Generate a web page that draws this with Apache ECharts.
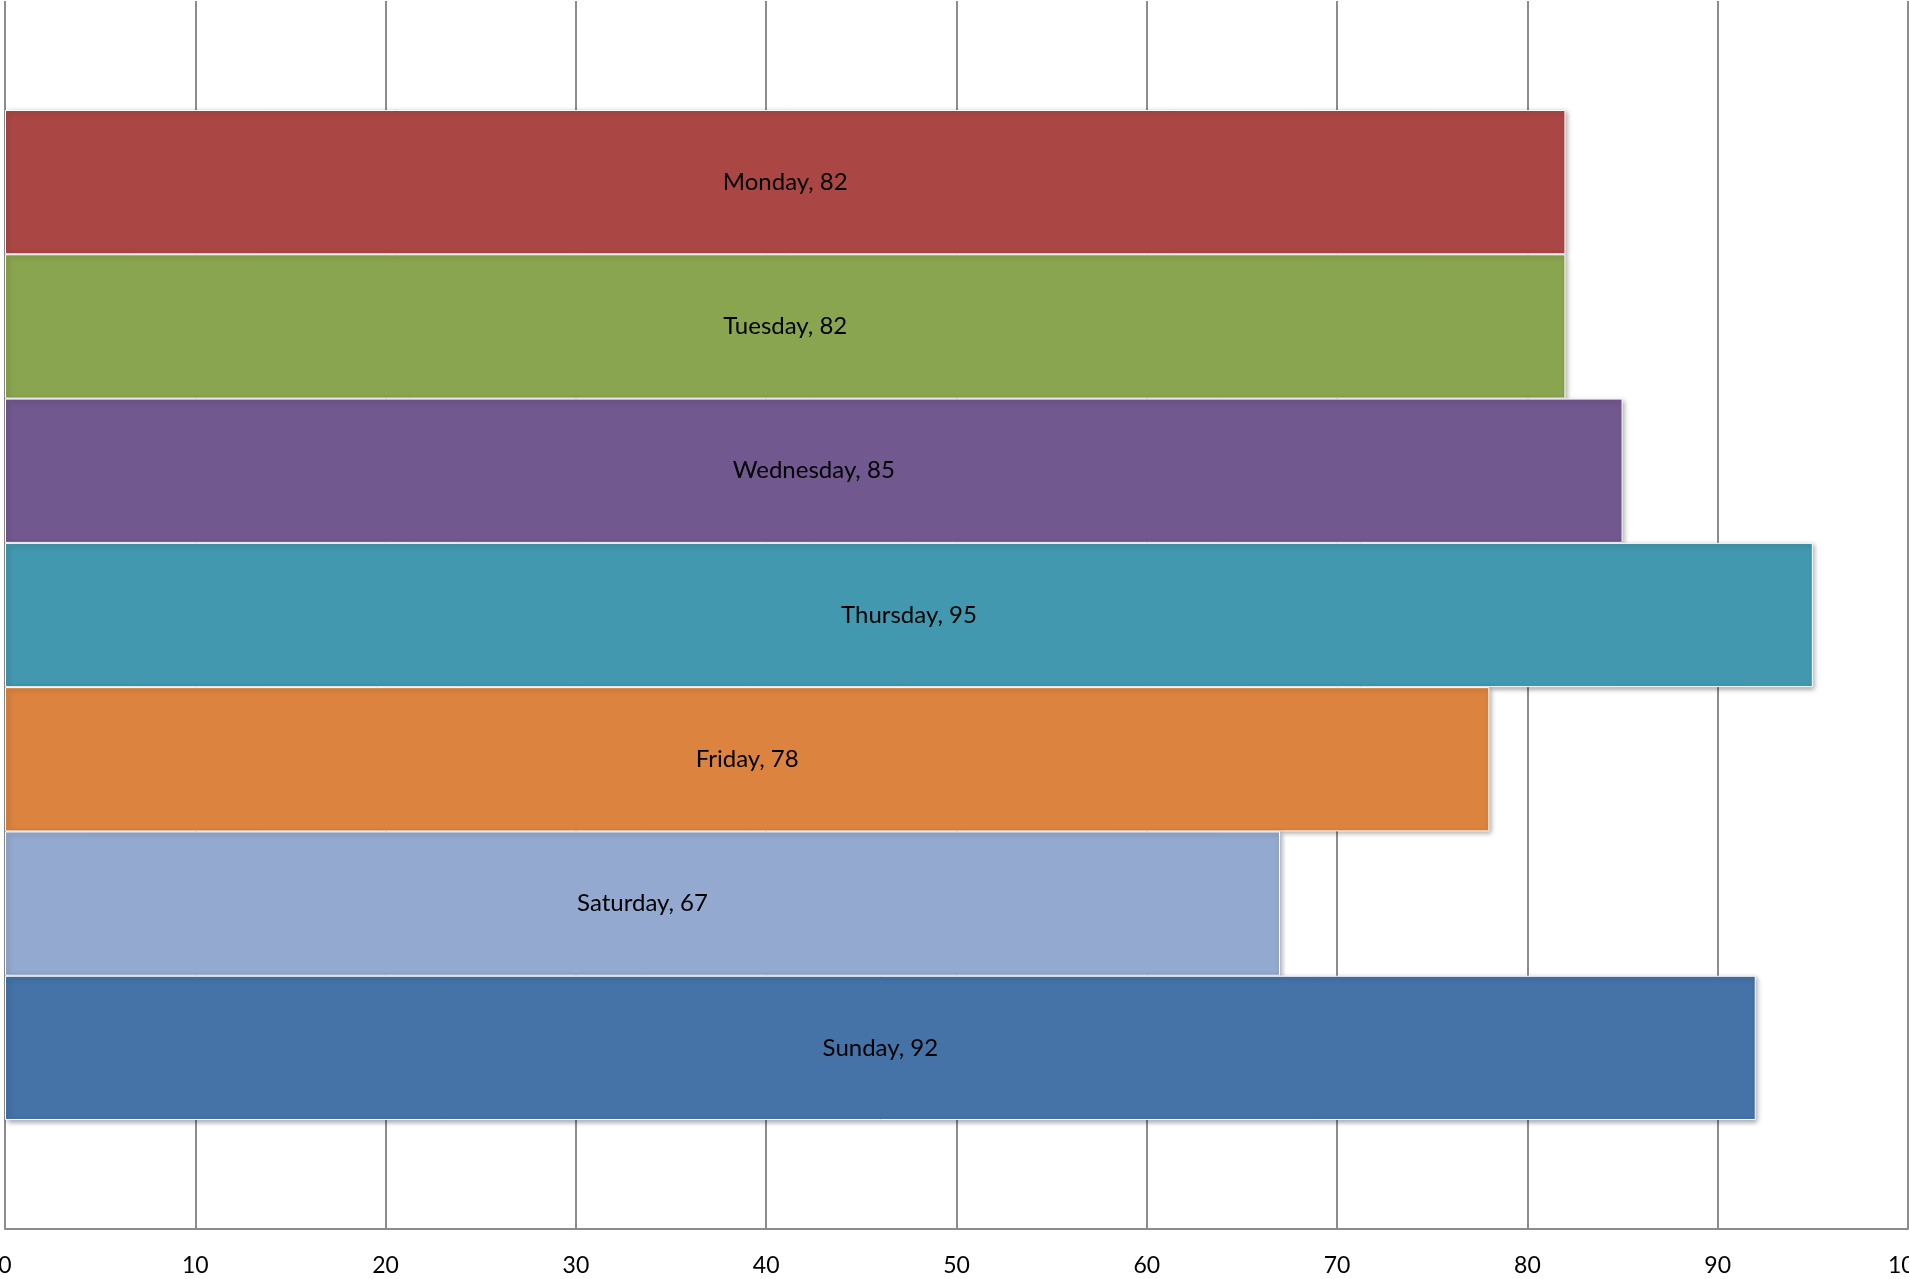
<!DOCTYPE html>
<html>
<head>
<meta charset="utf-8">
<script src="https://cdn.jsdelivr.net/npm/echarts@6/dist/echarts.min.js"></script>
<style>
html,body{margin:0;padding:0;background:#fff;}
#chart{width:1909px;height:1279px;}
</style>
</head>
<body>
<div id="chart"></div>
<script>
const days = ['Monday','Tuesday','Wednesday','Thursday','Friday','Saturday','Sunday'];
const values = [82, 82, 85, 95, 78, 67, 92];
const colors = ['#AA4744','#8AA54F','#71588F','#4298AF','#DC833F','#94A9CF','#4572A7'];
const xTicks = [0,10,20,30,40,50,60,70,80,90,100];

const chart = echarts.init(document.getElementById('chart'));
const series = days.map((d, i) => ({
  name: d,
  type: 'bar',
  data: [values[i]],
  barGap: '0%',
  barCategoryGap: '17.75%',
  itemStyle: {
    color: colors[i],
    borderColor: '#ffffff',
    borderWidth: 1,
    shadowColor: 'rgba(0,0,0,0.35)',
    shadowBlur: 5,
    shadowOffsetX: 2,
    shadowOffsetY: 2
  },
  label: {
    show: true,
    position: 'inside',
    formatter: d + ', ' + values[i],
    color: '#000',
    fontFamily: 'Lato',
    fontSize: 24
  }
}));

chart.setOption({
  animation: false,
  grid: {left: 5, right: 1, top: 1, bottom: 50, containLabel: false, outerBoundsMode: 'none'},
  xAxis: {
    type: 'value',
    min: 0, max: 100, interval: 10,
    axisLine: {show: true, lineStyle: {color: '#8C8C8C', width: 2}},
    axisTick: {show: false},
    splitLine: {show: true, lineStyle: {color: '#8C8C8C', width: 2}},
    axisLabel: {
      color: '#000', fontFamily: 'Lato', fontSize: 23, margin: 25,
      formatter: v => xTicks.includes(v) ? String(v) : ''
    }
  },
  yAxis: {
    type: 'category',
    data: [''],
    inverse: true,
    axisLine: {show: false},
    axisTick: {show: false},
    axisLabel: {show: false},
    splitLine: {show: false}
  },
  series: series
});
</script>
</body>
</html>
